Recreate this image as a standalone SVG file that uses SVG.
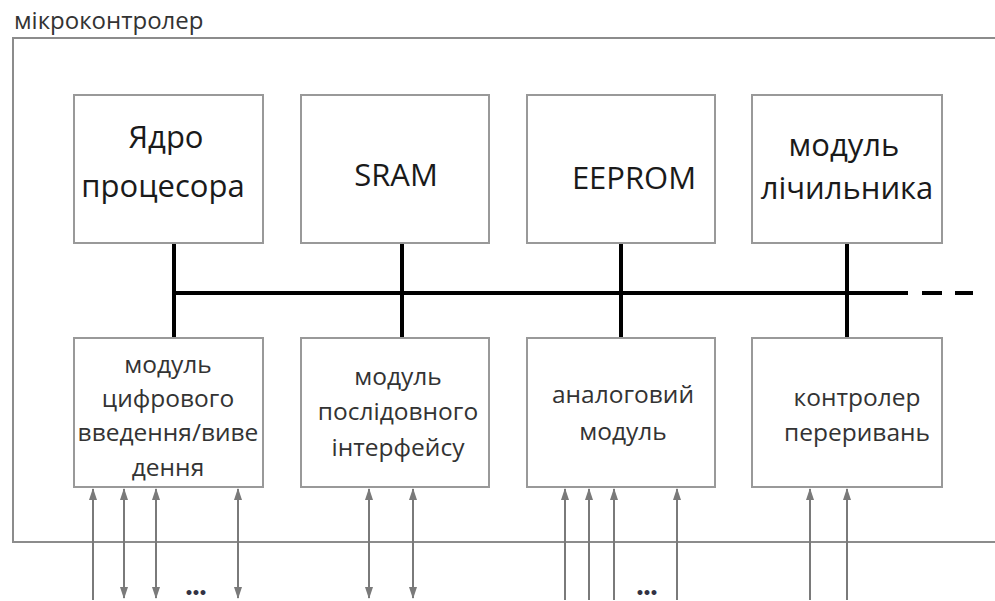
<svg xmlns="http://www.w3.org/2000/svg" width="995" height="601" viewBox="0 0 995 601">
<defs>
<style>
.box{fill:#fff;stroke:#999;stroke-width:2}
.outer{fill:none;stroke:#8c8c8c;stroke-width:2}
.bus{stroke:#000;stroke-width:4;fill:none}
.io{stroke:#7a7a7a;stroke-width:2;fill:none}
.big{font-family:"Open Sans","Noto Sans",sans-serif;font-size:31px;fill:#1a1a1a;text-anchor:middle}
.sm{font-family:"Open Sans","Noto Sans",sans-serif;font-size:24.5px;fill:#333;text-anchor:middle}
.title{font-family:"Open Sans","Noto Sans",sans-serif;font-size:24px;fill:#333}
.dots{font-family:"DejaVu Sans",sans-serif;font-size:14px;font-weight:bold;fill:#334;text-anchor:middle;letter-spacing:-2px}
</style>
<marker id="ah" viewBox="0 0 12 10" refX="11" refY="5" markerWidth="12" markerHeight="10" markerUnits="userSpaceOnUse" orient="auto-start-reverse">
<path d="M0,1 L12,5 L0,9 Z" fill="#7a7a7a"/>
</marker>
</defs>
<rect width="995" height="601" fill="#fff"/>
<text class="title" x="14" y="29">мікроконтролер</text>
<path class="outer" d="M1000,38 H13 V542 H1000"/>

<g id="connectors">
<path class="bus" d="M174,243 V338 M402,243 V338 M621,243 V338 M847,243 V338 M174,293 H908"/>
<path class="bus" d="M922,293 H942 M955,293 H973"/>
<path class="io" d="M93,600 V489" marker-end="url(#ah)"/>
<path class="io" d="M124,598 V489" marker-start="url(#ah)" marker-end="url(#ah)"/>
<path class="io" d="M156,598 V489" marker-start="url(#ah)" marker-end="url(#ah)"/>
<path class="io" d="M238,598 V489" marker-start="url(#ah)" marker-end="url(#ah)"/>
<path class="io" d="M369,598 V489" marker-start="url(#ah)" marker-end="url(#ah)"/>
<path class="io" d="M413,598 V489" marker-start="url(#ah)" marker-end="url(#ah)"/>
<path class="io" d="M565,600 V489" marker-end="url(#ah)"/>
<path class="io" d="M589,600 V489" marker-end="url(#ah)"/>
<path class="io" d="M614,600 V489" marker-end="url(#ah)"/>
<path class="io" d="M677,600 V489" marker-end="url(#ah)"/>
<path class="io" d="M810,600 V489" marker-end="url(#ah)"/>
<path class="io" d="M847,600 V489" marker-end="url(#ah)"/>
<text class="dots" x="195" y="598">•••</text>
<text class="dots" x="646" y="598">•••</text>
</g>

<g id="core">
<rect class="box" x="74" y="95" width="189" height="148"/>
<text class="big" x="166" y="148">Ядро</text>
<text class="big" x="163" y="197">процесора</text>
</g>
<g id="sram">
<rect class="box" x="301" y="95" width="188" height="148"/>
<text class="big" x="396" y="186">SRAM</text>
</g>
<g id="eeprom">
<rect class="box" x="527" y="95" width="188" height="148"/>
<text class="big" x="634" y="189">EEPROM</text>
</g>
<g id="counter">
<rect class="box" x="752" y="95" width="190" height="148"/>
<text class="big" x="844" y="156">модуль</text>
<text class="big" x="847" y="199">лічильника</text>
</g>
<g id="dio">
<rect class="box" x="74" y="338" width="189" height="149"/>
<text class="sm" x="168" y="373">модуль</text>
<text class="sm" x="168" y="407">цифрового</text>
<text class="sm" x="168" y="441">введення/виве</text>
<text class="sm" x="168" y="476">дення</text>
</g>
<g id="serial">
<rect class="box" x="301" y="338" width="188" height="149"/>
<text class="sm" x="398" y="385">модуль</text>
<text class="sm" x="398" y="420">послідовного</text>
<text class="sm" x="398" y="456">інтерфейсу</text>
</g>
<g id="analog">
<rect class="box" x="527" y="338" width="188" height="149"/>
<text class="sm" x="623" y="403">аналоговий</text>
<text class="sm" x="623" y="440">модуль</text>
</g>
<g id="irq">
<rect class="box" x="752" y="338" width="190" height="149"/>
<text class="sm" x="857" y="406">контролер</text>
<text class="sm" x="857" y="441">переривань</text>
</g>
</svg>
